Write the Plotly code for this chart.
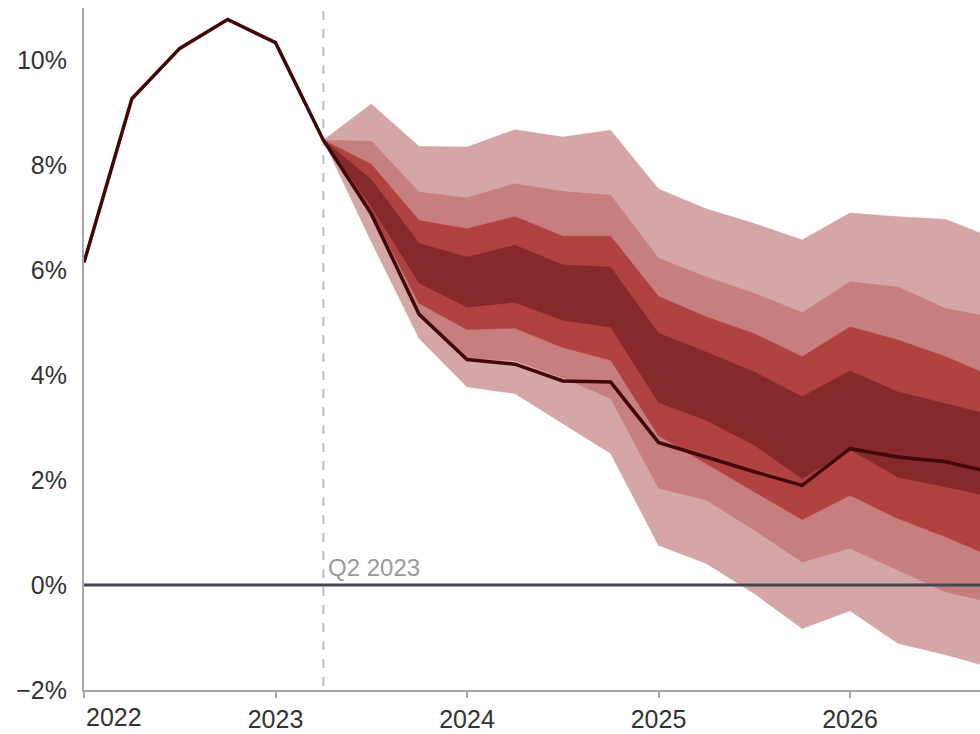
import plotly.graph_objects as go

# ---------------- data ----------------
hist_quarters = ["2022Q1", "2022Q2", "2022Q3", "2022Q4", "2023Q1", "2023Q2"]
hist_values = [6.15, 9.27, 10.23, 10.78, 10.34, 8.48]

fc_quarters = ["2023Q2", "2023Q3", "2023Q4", "2024Q1", "2024Q2", "2024Q3", "2024Q4",
               "2025Q1", "2025Q2", "2025Q3", "2025Q4", "2026Q1", "2026Q2", "2026Q3", "2026Q4"]
central = [8.48, 7.08, 5.16, 4.30, 4.21, 3.89, 3.87, 2.72, 2.44, 2.16, 1.90, 2.60, 2.44, 2.35, 2.14]

light_top = [8.48, 9.17, 8.36, 8.35, 8.68, 8.54, 8.67, 7.55, 7.17, 6.89, 6.58, 7.09, 7.02, 6.97, 6.61]
mid_top   = [8.48, 8.46, 7.49, 7.38, 7.65, 7.50, 7.43, 6.23, 5.87, 5.56, 5.19, 5.78, 5.68, 5.27, 5.10]
red_top   = [8.48, 8.02, 6.95, 6.79, 7.02, 6.65, 6.65, 5.50, 5.11, 4.79, 4.35, 4.92, 4.67, 4.35, 3.96]
dark_top  = [8.48, 7.73, 6.51, 6.25, 6.48, 6.10, 6.06, 4.80, 4.44, 4.06, 3.59, 4.08, 3.68, 3.46, 3.23]
dark_bot  = [8.48, 7.22, 5.76, 5.30, 5.39, 5.05, 4.92, 3.48, 3.14, 2.67, 2.03, 2.58, 2.06, 1.87, 1.68]
red_bot   = [8.48, 7.12, 5.37, 4.87, 4.90, 4.53, 4.29, 2.85, 2.32, 1.78, 1.25, 1.71, 1.27, 0.92, 0.53]
mid_bot   = [8.48, 7.00, 5.14, 4.33, 4.28, 3.95, 3.56, 1.85, 1.62, 1.05, 0.44, 0.70, 0.29, -0.13, -0.34]
light_bot = [8.48, 6.55, 4.70, 3.78, 3.65, 3.08, 2.51, 0.76, 0.41, -0.16, -0.83, -0.49, -1.11, -1.33, -1.58]

y_tick_vals = [-2, 0, 2, 4, 6, 8, 10]
y_tick_text = ["\u22122%", "0%", "2%", "4%", "6%", "8%", "10%"]
x_tick_vals = [2022, 2023, 2024, 2025, 2026]
x_tick_text = ["", "2023", "2024", "2025", "2026"]
marker_quarter = "2023Q2"
marker_label = "Q2 2023"

# ---------------- helpers ----------------
def qnum(q):
    return int(q[:4]) + (int(q[5]) - 1) / 4.0

hx = [qnum(q) for q in hist_quarters]
fx = [qnum(q) for q in fc_quarters]

FONT = "Liberation Sans, Arial, sans-serif"
FS = 25
C_LIGHT = "#d5a6a6"
C_MID = "#c67e7e"
C_RED = "#b04242"
C_DARK = "#86292a"
C_LINE = "#420708"

fig = go.Figure()

def band(top, bot, color):
    fig.add_trace(go.Scatter(
        x=fx + fx[::-1], y=top + bot[::-1],
        fill="toself", fillcolor=color, mode="lines",
        line=dict(width=0.6, color=color), hoverinfo="skip", showlegend=False))

band(light_top, light_bot, C_LIGHT)
band(mid_top, mid_bot, C_MID)
band(red_top, red_bot, C_RED)
band(dark_top, dark_bot, C_DARK)

fig.add_trace(go.Scatter(
    x=hx + fx[1:], y=hist_values + central[1:], mode="lines",
    line=dict(color=C_LINE, width=3.5), showlegend=False, hoverinfo="skip"))

# zero line
fig.add_shape(type="line", xref="paper", x0=0, x1=1, yref="y", y0=0, y1=0,
              line=dict(color="#45464f", width=3), layer="above")
# vertical dashed line
fig.add_shape(type="line", xref="x", x0=qnum(marker_quarter), x1=qnum(marker_quarter),
              yref="paper", y0=0.006, y1=1, line=dict(color="#bdbdbd", width=2, dash="dash"),
              layer="below")

fig.add_annotation(x=qnum(marker_quarter), y=0, xref="x", yref="y", text=marker_label,
                   showarrow=False, xanchor="left", yanchor="bottom", xshift=3, yshift=2,
                   font=dict(family=FONT, size=24, color="#9a9a9a"))
fig.add_annotation(x=2022, y=0, xref="x", yref="paper", text="2022",
                   showarrow=False, xanchor="left", yanchor="top", xshift=0, yshift=-11,
                   font=dict(family=FONT, size=FS, color="#333333"))

fig.update_layout(
    width=980, height=734,
    margin=dict(l=84, r=0, t=8, b=44),
    paper_bgcolor="white", plot_bgcolor="white",
    font=dict(family=FONT, size=FS, color="#333333"),
    showlegend=False,
    xaxis=dict(range=[2022, 2022 + 896 / 191.5], tickvals=x_tick_vals, ticktext=x_tick_text,
               showgrid=False, zeroline=False, showline=True, linecolor="#a8a8a8", linewidth=2,
               ticks="outside", ticklen=6, tickwidth=2, tickcolor="#a8a8a8",
               tickfont=dict(family=FONT, size=FS, color="#333333")),
    yaxis=dict(range=[-2, 11], tickvals=y_tick_vals, ticktext=y_tick_text,
               showgrid=False, zeroline=False, showline=True, linecolor="#a8a8a8", linewidth=2,
               ticks="", ticklabelstandoff=10,
               tickfont=dict(family=FONT, size=FS, color="#333333")),
)

fig.write_html("out.html")
